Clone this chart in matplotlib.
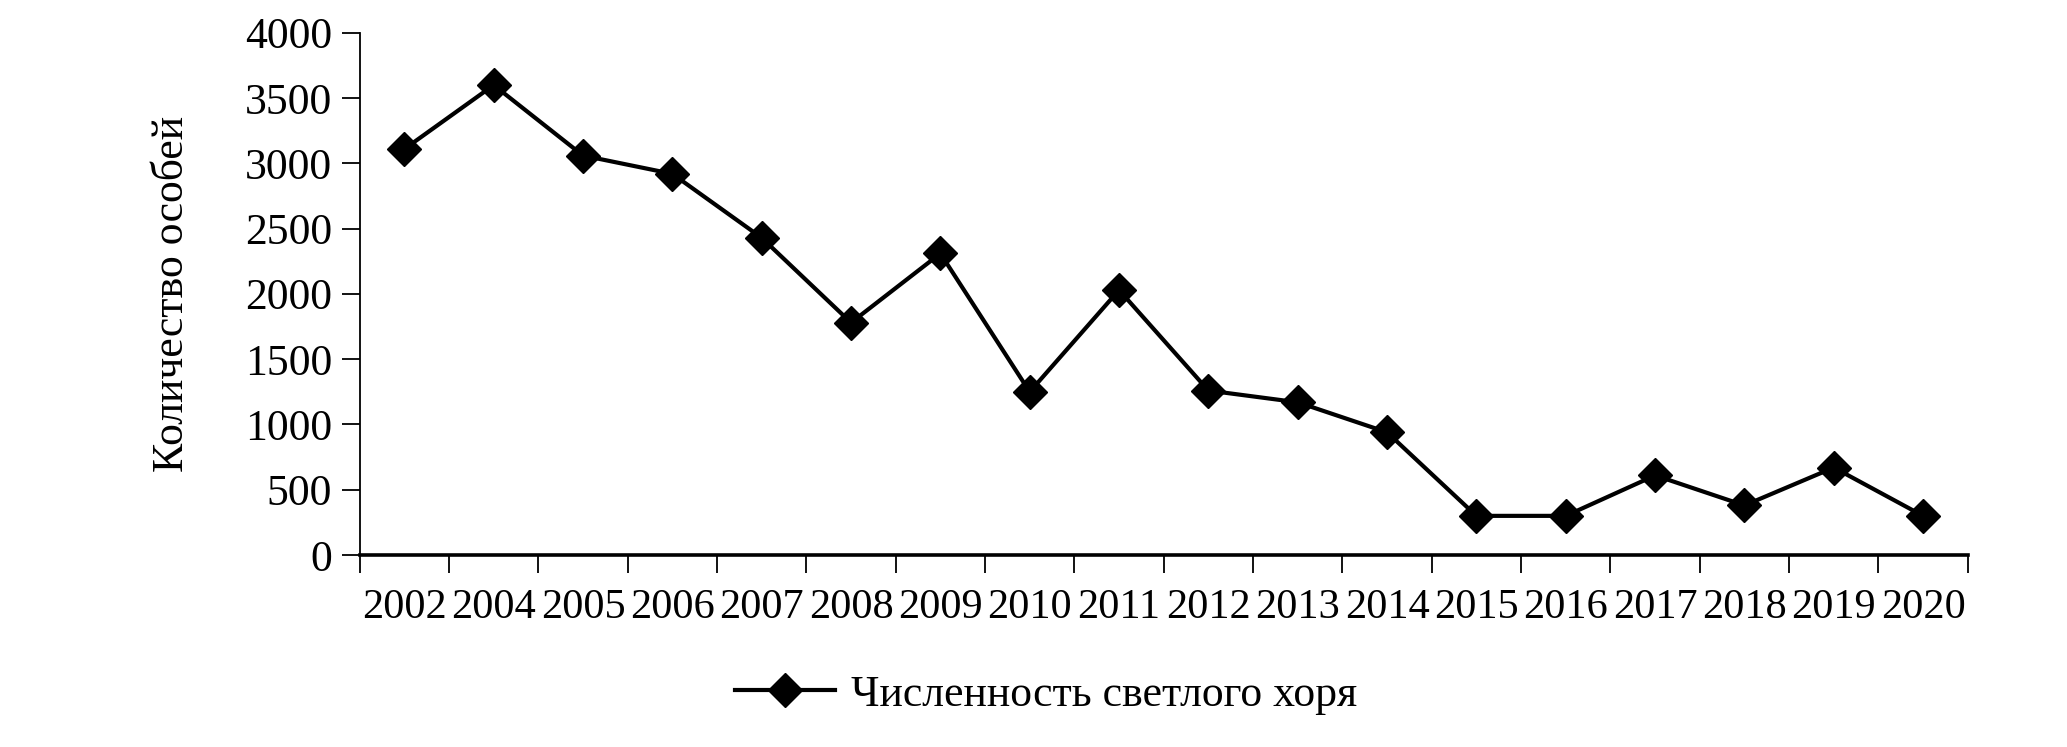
import matplotlib
matplotlib.use("Agg")
import matplotlib.pyplot as plt
import numpy as np

years = ["2002", "2004", "2005", "2006", "2007", "2008", "2009", "2010", "2011",
         "2012", "2013", "2014", "2015", "2016", "2017", "2018", "2019", "2020"]
counts = [3110, 3600, 3060, 2920, 2430, 1780, 2310, 1250, 2030,
          1260, 1170, 940, 300, 300, 610, 380, 670, 300]
series_label = "Численность светлого хоря"
y_label = "Количество особей"

plt.rcParams['font.family'] = ['Liberation Serif', 'DejaVu Serif']
FS = 31.5

fig = plt.figure(figsize=(20.67, 7.47), dpi=100)
ax = fig.add_axes([0.174, 0.257, 0.778, 0.699])

x = np.arange(len(years)) + 0.5
ax.plot(x, counts, color='black', lw=3.0, marker='D', markersize=17,
        label=series_label)

ax.set_xlim(0, len(years))
ax.set_ylim(0, 4000)
ax.set_yticks(np.arange(0, 4001, 500))
ax.set_xticks(np.arange(0, len(years) + 1))
ax.set_xticklabels([])
ax.set_xticks(x, minor=True)
ax.set_xticklabels(years, minor=True)
ax.tick_params(axis='x', which='major', length=13, width=1.3, direction='out')
ax.tick_params(axis='x', which='minor', length=0, pad=24, labelsize=30.5)
ax.tick_params(axis='y', length=13, width=1.3, direction='out', pad=7, labelsize=FS)

for s in ['top', 'right']:
    ax.spines[s].set_visible(False)
ax.spines['left'].set_linewidth(1.3)
ax.spines['bottom'].set_linewidth(2.6)

ax.set_ylabel(y_label, fontsize=FS, labelpad=38)

fig.legend(loc='center', bbox_to_anchor=(0.506, 0.07), frameon=False,
           fontsize=FS, handlelength=2.3, handletextpad=0.35)

fig.savefig("out.png", dpi=100)
